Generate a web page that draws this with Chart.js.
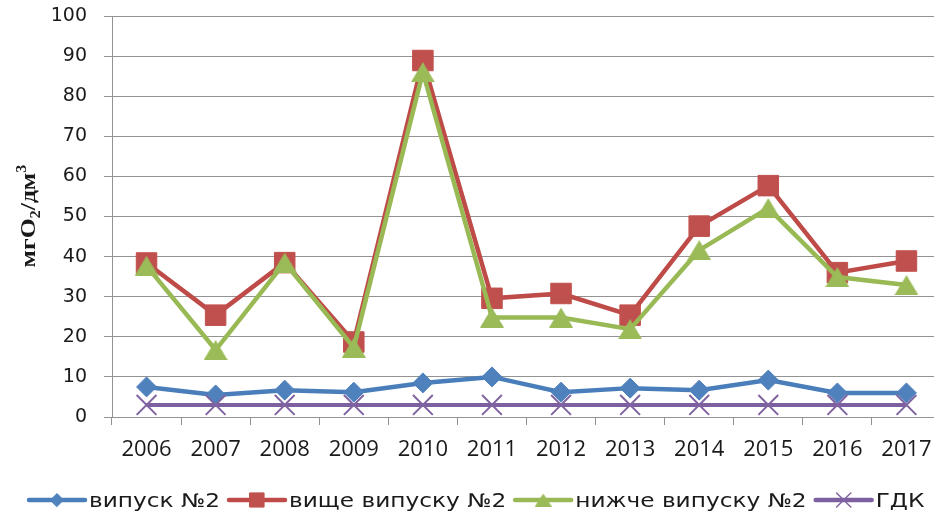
<!DOCTYPE html>
<html>
<head>
<meta charset="utf-8">
<title>ХСК, мгО2/дм3</title>
<script src="https://cdn.jsdelivr.net/npm/chart.js@4.4.1/dist/chart.umd.min.js"></script>
<style>
  html, body { margin: 0; padding: 0; background: #ffffff; overflow: hidden; width: 934px; height: 515px; }
  canvas { display: block; }
</style>
</head>
<body>
<canvas id="chart" width="957" height="515"></canvas>
<script>
// ---- data ----
const years = ['2006', '2007', '2008', '2009', '2010', '2011', '2012', '2013', '2014', '2015', '2016', '2017'];
const seriesNames = ['випуск №2', 'вище випуску №2', 'нижче випуску №2', 'ГДК'];
const outletValues = [7.5, 5.5, 6.7, 6.2, 8.5, 10.0, 6.2, 7.2, 6.7, 9.2, 6.0, 6.0];
const aboveValues  = [38.4, 25.4, 38.5, 18.7, 88.9, 29.6, 30.8, 25.4, 47.6, 57.7, 36.0, 38.9];
const belowValues  = [37.7, 16.7, 38.5, 17.3, 86.0, 24.8, 24.8, 21.9, 41.6, 52.1, 34.9, 32.9];
const limitValues  = [3, 3, 3, 3, 3, 3, 3, 3, 3, 3, 3, 3];
const yMin = 0, yMax = 100, yStep = 10;
const yTitleParts = [
  { text: 'мгО', kind: 'normal' },
  { text: '2', kind: 'sub' },
  { text: '/дм', kind: 'normal' },
  { text: '3', kind: 'sup' }
];

// ---- styles ----
const BLUE = '#4A7EBB', BLUE_FILL = '#4F81BD';
const RED = '#BE4B48', RED_FILL = '#C0504D';
const GREEN = '#98B954', GREEN_FILL = '#9BBB59';
const PURPLE = '#7D60A0', PURPLE_MARK = '#8064A2';
const GRID = '#939393';
const TEXT = '#1a1a1a';

// triangle marker centred on its bounding box
function triangleImage(w, h, color) {
  const c = document.createElement('canvas');
  c.width = w; c.height = h;
  const g = c.getContext('2d');
  g.fillStyle = color;
  g.beginPath();
  g.moveTo(w / 2, 0);
  g.lineTo(w, h);
  g.lineTo(0, h);
  g.closePath();
  g.fill();
  return c;
}
const triChart = triangleImage(24, 20, GREEN_FILL);
const triLegend = triangleImage(17, 13, GREEN_FILL);

const datasets = [
  {
    label: seriesNames[0], data: outletValues, order: 4,
    borderColor: BLUE, backgroundColor: BLUE_FILL, borderWidth: 4.5,
    pointStyle: 'rectRot', pointRadius: 10, pointBackgroundColor: BLUE_FILL,
    pointBorderColor: BLUE_FILL, pointBorderWidth: 1,
    legendMarker: { style: 'rectRot', radius: 6.5 }
  },
  {
    label: seriesNames[1], data: aboveValues, order: 3,
    borderColor: RED, backgroundColor: RED_FILL, borderWidth: 4.5,
    pointStyle: 'rect', pointRadius: 14.5, pointBackgroundColor: RED_FILL,
    pointBorderColor: RED_FILL, pointBorderWidth: 1,
    legendMarker: { style: 'rect', radius: 10 }
  },
  {
    label: seriesNames[2], data: belowValues, order: 2,
    borderColor: GREEN, backgroundColor: GREEN_FILL, borderWidth: 4.5,
    pointStyle: triChart, pointRadius: 12, pointBackgroundColor: GREEN_FILL,
    pointBorderColor: GREEN_FILL, pointBorderWidth: 0,
    legendMarker: { style: triLegend, radius: 8 }
  },
  {
    label: seriesNames[3], data: limitValues, order: 1,
    borderColor: PURPLE, backgroundColor: PURPLE_MARK, borderWidth: 4,
    pointStyle: 'crossRot', pointRadius: 14, pointBackgroundColor: PURPLE_MARK,
    pointBorderColor: PURPLE_MARK, pointBorderWidth: 2,
    legendMarker: { style: 'crossRot', radius: 10, borderWidth: 1.5 }
  }
];

// draw one marker shape (used by the legend)
function drawMarker(ctx, style, radius, x, y) {
  if (Chart.helpers && Chart.helpers.drawPoint) {
    Chart.helpers.drawPoint(ctx, { pointStyle: style, radius: radius, rotation: 0, borderWidth: ctx.lineWidth }, x, y);
    return;
  }
  if (typeof style === 'object') { ctx.drawImage(style, x - style.width / 2, y - style.height / 2); return; }
  ctx.beginPath();
  if (style === 'rectRot') {
    ctx.moveTo(x - radius, y); ctx.lineTo(x, y - radius); ctx.lineTo(x + radius, y); ctx.lineTo(x, y + radius); ctx.closePath(); ctx.fill();
  } else if (style === 'rect') {
    const s = radius * Math.SQRT1_2; ctx.rect(x - s, y - s, 2 * s, 2 * s); ctx.fill();
  } else if (style === 'crossRot') {
    const s = radius * Math.SQRT1_2;
    ctx.moveTo(x - s, y - s); ctx.lineTo(x + s, y + s); ctx.moveTo(x - s, y + s); ctx.lineTo(x + s, y - s); ctx.stroke();
  }
}

// legend row under the axis: line sample with marker, then the series name
const bottomLegend = {
  id: 'bottomLegend',
  afterDraw(chart, args, opts) {
    const ctx = chart.ctx;
    ctx.save();
    ctx.font = opts.font;
    const sx = opts.firstTextWidth / ctx.measureText(chart.data.datasets[0].label).width;
    let x = opts.left;
    const y = opts.centerY;
    chart.data.datasets.forEach(ds => {
      ctx.strokeStyle = ds.borderColor;
      ctx.lineWidth = opts.lineWidth;
      ctx.lineCap = 'round';
      ctx.beginPath();
      ctx.moveTo(x, y);
      ctx.lineTo(x + opts.sampleWidth, y);
      ctx.stroke();
      const m = ds.legendMarker;
      ctx.fillStyle = ds.pointBackgroundColor;
      ctx.strokeStyle = ds.pointBorderColor;
      ctx.lineWidth = m.borderWidth || 1;
      drawMarker(ctx, m.style, m.radius, x + opts.sampleWidth / 2, y);
      x += opts.sampleWidth + opts.gapAfterSample;
      ctx.fillStyle = TEXT;
      ctx.textBaseline = 'alphabetic';
      ctx.textAlign = 'left';
      const w = ctx.measureText(ds.label).width * sx;
      ctx.save();
      ctx.translate(x, opts.baseline);
      ctx.scale(sx, 1);
      ctx.fillText(ds.label, 0, 0);
      ctx.restore();
      x += w + opts.gapAfterText;
    });
    ctx.restore();
  }
};

// rotated y-axis title with subscript / superscript digits
const yTitle = {
  id: 'yTitle',
  afterDraw(chart, args, opts) {
    const ctx = chart.ctx;
    ctx.save();
    const big = opts.size, small = Math.round(opts.size * 0.62);
    const fontFor = k => `bold ${k === 'normal' ? big : small}px ${opts.family}`;
    let natural = 0;
    yTitleParts.forEach(p => { ctx.font = fontFor(p.kind); natural += ctx.measureText(p.text).width; });
    const sx = opts.length / natural;
    ctx.translate(opts.baselineX, opts.centerY);
    ctx.rotate(-Math.PI / 2);
    ctx.scale(sx, 1);
    ctx.fillStyle = TEXT;
    ctx.textBaseline = 'alphabetic';
    let x = -natural / 2;
    yTitleParts.forEach(p => {
      ctx.font = fontFor(p.kind);
      const dy = p.kind === 'sub' ? big * 0.22 : (p.kind === 'sup' ? -big * 0.42 : 0);
      ctx.fillText(p.text, x, dy);
      x += ctx.measureText(p.text).width;
    });
    ctx.restore();
  }
};

new Chart(document.getElementById('chart'), {
  type: 'line',
  data: { labels: years, datasets: datasets },
  plugins: [bottomLegend, yTitle],
  options: {
    responsive: false,
    animation: false,
    events: [],
    layout: { padding: { top: 16, right: 0, left: 0, bottom: 0 } },
    elements: { line: { tension: 0, fill: false } },
    plugins: {
      legend: { display: false },
      tooltip: { enabled: false },
      bottomLegend: {
        font: '19px "DejaVu Sans"',
        firstTextWidth: 131,
        left: 29, centerY: 500, baseline: 507,
        sampleWidth: 56, lineWidth: 4.5,
        gapAfterSample: 4, gapAfterText: 9
      },
      yTitle: { family: '"Liberation Serif", "Times New Roman", serif', size: 22, length: 103, baselineX: 35, centerY: 216 }
    },
    scales: {
      x: {
        type: 'category',
        offset: true,
        grid: { display: true, drawOnChartArea: false, drawTicks: true, tickLength: 8, offset: true, color: GRID, lineWidth: 1 },
        border: { display: true, color: GRID, width: 1 },
        ticks: { color: TEXT, font: { family: '"Open Sans"', size: 22 }, padding: 12, maxRotation: 0, autoSkip: false },
        afterFit(scale) { scale.height = 98; }
      },
      y: {
        min: yMin, max: yMax,
        grid: { color: GRID, lineWidth: 1, drawTicks: true, tickLength: 8 },
        border: { display: true, color: GRID, width: 1 },
        ticks: { stepSize: yStep, color: TEXT, font: { family: '"DejaVu Sans"', size: 19 }, padding: 17 },
        afterFit(scale) {
          scale.width = 112;
          scale.paddingTop = 0;
          scale.paddingBottom = 0;
        }
      }
    }
  }
});
</script>
</body>
</html>
